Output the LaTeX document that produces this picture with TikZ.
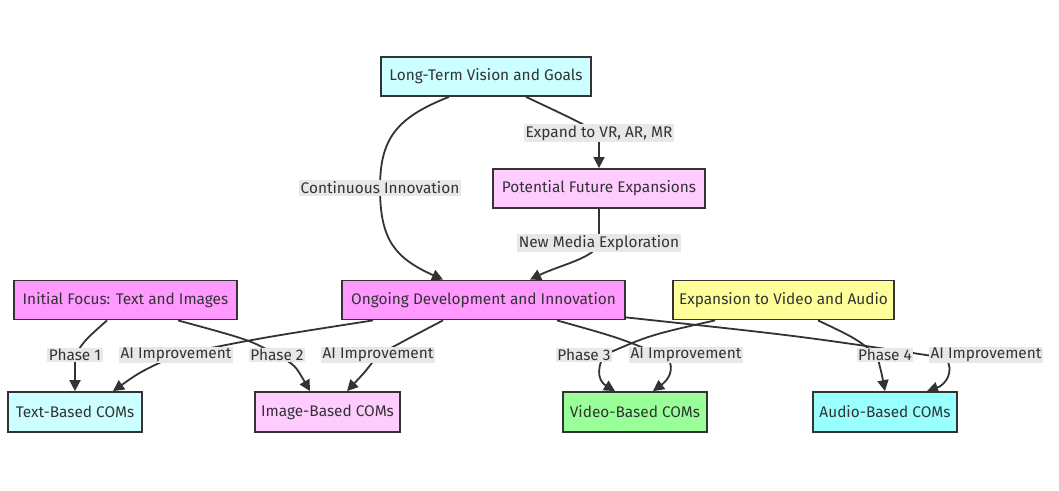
\documentclass[tikz,border=0pt]{standalone}
\usepackage{fontspec}
\setmainfont{Fira Sans}
\usetikzlibrary{arrows.meta,calc}
\pgfdeclarelayer{bg}
\pgfsetlayers{bg,main}
\definecolor{ink}{HTML}{333333}
\definecolor{cCyanL}{HTML}{CCFFFF}
\definecolor{cPinkL}{HTML}{FFCCFF}
\definecolor{cPink}{HTML}{FF99FF}
\definecolor{cYellow}{HTML}{FFFF99}
\definecolor{cGreen}{HTML}{99FF99}
\definecolor{cCyan}{HTML}{99FFFF}
\definecolor{lblbg}{HTML}{E8E8E8}
\begin{document}
\begin{tikzpicture}[x=1pt,y=-1pt,
  box/.style={draw=ink, line width=1.8pt, text=ink, minimum height=39pt, inner sep=0pt,
    font=\fontsize{15.4}{18}\selectfont},
  lbl/.style={fill=lblbg, text=ink, inner sep=1.5pt, font=\fontsize{15.4}{18}\selectfont},
  arr/.style={draw=ink, line width=1.8pt, -{Triangle[length=11pt,width=11pt]}}]
\useasboundingbox (0,0) rectangle (1059,490);
% nodes
\node[box, fill=cCyanL, minimum width=210pt] (lt) at (486,76.5) {Long-Term Vision and Goals};
\node[box, fill=cPinkL, minimum width=212pt] (pf) at (599,188.5) {Potential Future Expansions};
\node[box, fill=cPink, minimum width=283pt] (og) at (483.5,300) {Ongoing Development and Innovation};
\node[box, fill=cPink, minimum width=223pt] (init) at (125.5,300) {Initial Focus: Text and Images};
\node[box, fill=cYellow, minimum width=221pt] (exp) at (783.5,300) {Expansion to Video and Audio};
\node[box, fill=cCyanL, minimum width=134pt, minimum height=40pt] (tb) at (75,412) {Text-Based COMs};
\node[box, fill=cPinkL, minimum width=145pt, minimum height=40pt] (ib) at (327.5,412) {Image-Based COMs};
\node[box, fill=cGreen, minimum width=144pt, minimum height=40pt] (vb) at (635,412) {Video-Based COMs};
\node[box, fill=cCyan, minimum width=144pt, minimum height=40pt] (ab) at (885,412) {Audio-Based COMs};
% labels
\node[lbl] (l1) at (380,188) {Continuous Innovation};
\node[lbl] (l2) at (599,133) {Expand to VR, AR, MR};
\node[lbl] (l3) at (599,243) {New Media Exploration};
\node[lbl] (l4) at (75,355) {Phase 1};
\node[lbl] (l5) at (277,355) {Phase 2};
\node[lbl] (l6) at (176,355) {AI Improvement};
\node[lbl] (l7) at (378,355) {AI Improvement};
\node[lbl] (l8) at (686,355) {AI Improvement};
\node[lbl] (l9) at (584,355) {Phase 3};
\node[lbl] (l10) at (885,355) {Phase 4};
\node[lbl] (l11) at (986,355) {AI Improvement};
% edges
\begin{pgfonlayer}{bg}
\fill[white] (0,0) rectangle (1059,490);
\draw[arr] ($(lt.south)+(-37,0)$) .. controls (395,118) and (380,140) .. (l1.center)
  .. controls (380,240) and (395,258) .. ($(og.north)+(-40.5,0)$);
\draw[arr] ($(lt.south)+(40,0)$) .. controls (575,120) .. (l2.center)
  .. controls (599,150) .. (pf.north);
\draw[arr] (pf.south) .. controls (599,225) .. (l3.center)
  .. controls (595,258) and (560,265) .. ($(og.north)+(46.5,0)$);
\draw[arr] ($(init.south)+(-18.5,0)$) .. controls (85,340) .. (l4.center)
  .. controls (75,372) .. (tb.north);
\draw[arr] ($(init.south)+(52.5,0)$) .. controls (250,340) .. (l5.center)
  .. controls (295,365) .. ($(ib.north)+(-17.5,0)$);
\draw[arr] ($(og.south)+(-110.5,0)$) .. controls (260,338) .. (l6.center)
  .. controls (140,372) .. ($(tb.north)+(38,0)$);
\draw[arr] ($(og.south)+(-40.5,0)$) .. controls (415,335) .. (l7.center)
  .. controls (365,372) .. ($(ib.north)+(19.5,0)$);
\draw[arr] ($(og.south)+(73.5,0)$) .. controls (620,338) .. ($(l8.center)+(-18,3)$)
  .. controls (675,370) and (668,380) .. ($(vb.north)+(18,0)$);
\draw[arr] ($(exp.south)+(-68.5,0)$) .. controls (650,335) .. ($(l9.center)+(20,0)$)
  .. controls (595,372) and (600,382) .. ($(vb.north)+(-20,0)$);
\draw[arr] ($(exp.south)+(34.5,0)$) .. controls (855,338) .. ($(l10.center)+(-8,0)$)
  .. controls (882,375) .. (ab.north);
\draw[arr] ($(og.south east)+(0,-3)$) .. controls (800,336) .. ($(l11.center)+(-40,3)$)
  .. controls (955,372) and (945,385) .. ($(ab.north)+(42,0)$);
\end{pgfonlayer}
\end{tikzpicture}
\end{document}
